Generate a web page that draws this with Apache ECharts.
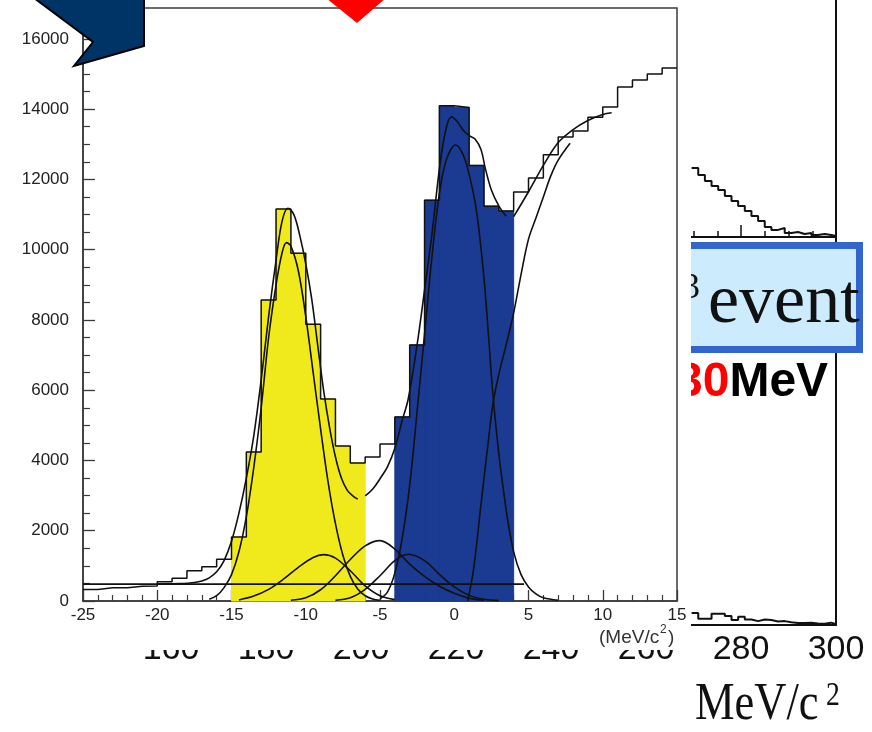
<!DOCTYPE html>
<html><head><meta charset="utf-8">
<script src="https://cdn.jsdelivr.net/npm/echarts/dist/echarts.min.js"></script>
<style>html,body{margin:0;padding:0;background:#fff}#c{width:872px;height:732px}</style>
</head><body><div id="c"></div>
<script>
// ---- main histogram (binding energy, MeV/c^2) ----
const binLeft = [-25,-24,-23,-22,-21,-20,-19,-18,-17,-16,-15,-14,-13,-12,-11,-10,-9,-8,-7,-6,-5,-4,-3,-2,-1,0,1,2,3,4,5,6,7,8,9,10,11,12,13,14];
const binRight = 15;
const binWidth = 1;
const counts = [330,380,380,420,430,550,650,860,975,1190,1820,4240,8570,11160,9900,7880,5750,4410,3930,4100,4470,5240,7290,11410,14100,14050,12400,11240,11100,11640,12040,12700,13210,13380,13770,14060,14630,14830,15000,15170];
const yellowRange = [-15, -6];
const blueRange = [-4, 4];

// fitted curves: [x, counts]
const fitTotalA = [[-20,485],[-19,490],[-18.5,495],[-18,505],[-17.5,525],[-17,570],[-16.5,660],[-16,830],[-15.5,1150],[-15,1700],[-14.5,2500],[-14,3500],[-13.5,4700],[-13,6300],[-12.5,8100],[-12,9700],[-11.6,10800],[-11.2,11180],[-10.8,11000],[-10.4,10400],[-10,9600],[-9.6,8600],[-9.2,7300],[-8.8,6000],[-8.4,4950],[-8,4100],[-7.6,3500],[-7.2,3150],[-6.8,2980],[-6.5,2900]];
const fitTotalB = [[-6,2990],[-5.5,3180],[-5,3480],[-4.5,3820],[-4,4350],[-3.5,5150],[-3.1,5750],[-2.5,7300],[-2,8850],[-1.5,10450],[-1,12300],[-0.6,13350],[-0.2,13780],[0.2,13650],[0.6,13400],[1,13250],[1.4,13150],[1.8,12850],[2.1,12300],[2.5,11700],[3,11250],[3.5,10950]];
const fitTotalC = [[4,10940],[5,11650],[6,12400],[7,13050],[8,13420],[9,13680],[10,13850],[10.6,13900]];
const thresholdComp = [[0.9,0],[1.3,900],[1.8,2750],[2.2,4200],[2.6,5600],[3,6450],[3.5,7300],[4,8200],[4.5,9300],[5,10300],[5.5,10900],[6,11500],[6.5,12100],[7,12550],[7.8,13030]];
const peakS = [[-16.5,50],[-16,150],[-15.5,380],[-15,750],[-14.5,1400],[-14,2400],[-13.5,3800],[-13,5500],[-12.5,7500],[-12,9000],[-11.6,9900],[-11.3,10200],[-11,10100],[-10.5,9400],[-10,8100],[-9.5,6500],[-9,4900],[-8.5,3400],[-8,2200],[-7.5,1300],[-7,700],[-6.5,340],[-6,150],[-5.5,60],[-5,20]];
const peak2 = [[-14.5,30],[-13.5,140],[-12.5,330],[-11.5,620],[-10.5,960],[-9.5,1240],[-8.8,1320],[-8,1220],[-7,860],[-6,430],[-5,150],[-4,40]];
const peak3 = [[-11,20],[-10,90],[-9,320],[-8,720],[-7,1180],[-6,1570],[-5,1720],[-4,1480],[-3,1050],[-2,700],[-1,420],[0,220],[1,80],[2,20]];
const peak4 = [[-8,20],[-7,90],[-6,330],[-5,720],[-4,1150],[-3.1,1330],[-2,1150],[-1,760],[0,400],[1,160],[2,50],[3,10]];
const peakP = [[-5,60],[-4.5,250],[-4,800],[-3.5,1800],[-3,3300],[-2.5,5400],[-2,7600],[-1.5,9800],[-1,11600],[-0.5,12600],[0.1,12980],[0.6,12700],[1,12150],[1.5,11100],[2,9200],[2.3,7600],[2.6,5900],[3,4200],[3.3,3200],[3.6,2300],[4,1400],[4.5,750],[5,400],[5.5,200],[6,90],[7,20]];
const background = [[-25,480],[4.7,480]];

const xTicksMain = {min: -25, max: 15, interval: 5};
const yTicksMain = {min: 0, max: 16880, interval: 2000};

// ---- partly hidden second chart on the right ----
const rightBinLeft = [269.6,271.0,272.4,273.8,275.2,276.6,278.0,279.4,280.8,282.2,283.6,285.0,286.4,287.8,289.2,290.6,292.0,293.4,294.8,296.2,297.6,299.0];
const rightBinRight = 300;
const upperCounts = [29.1,26.2,23.6,21.5,19.8,17.3,15.2,13.1,11.0,8.9,6.8,4.2,3.0,3.8,1.7,2.1,1.3,1.7,0.8,1.3,0.8,0.4];
const lowerCounts = [3.1,1.6,1.6,2.9,2.9,2.3,1.3,2.1,1.4,1.0,1.4,1.3,0.9,1.0,0.7,0.5,0.5,0.6,0.4,0.3,0.6,0.2];
const rightTicks = {min: 160, max: 300, interval: 20};

// ---- build ----
function stepData(lefts, vals, right) {
  const d = lefts.map((x, i) => [x, vals[i]]);
  d.push([right, vals[vals.length - 1]]);
  return d;
}
function binsIn(range) {
  return binLeft.map((x, i) => [x, counts[i]]).filter(p => p[0] >= range[0] && p[0] < range[1]);
}
function barItem(params, api) {
  const x0 = api.value(0), v = api.value(1);
  const p0 = api.coord([x0, v]);
  const p1 = api.coord([x0 + binWidth, 0]);
  const c = api.visual('color');
  return {type: 'rect', shape: {x: p0[0], y: p0[1], width: p1[0] - p0[0], height: p1[1] - p0[1]},
          style: {fill: c, stroke: c, lineWidth: 1}};
}
const axisCol = '#3a3a3a';
const curve = (data) => ({type: 'line', data, smooth: 0.35, symbol: 'none', xAxisIndex: 0, yAxisIndex: 0,
  lineStyle: {color: '#111', width: 1.6}, z: 10, silent: true});

const chart = echarts.init(document.getElementById('c'), null, {renderer: 'canvas'});
chart.setOption({
  animation: false,
  backgroundColor: '#fff',
  grid: [
    {left: 83, right: 195, top: 8, bottom: 131, show: true, borderColor: axisCol, borderWidth: 1.5, backgroundColor: 'transparent', z: 6, containLabel: false, outerBoundsMode: 'none'},
    {left: 171, right: 36, top: 0, bottom: 495, show: false, z: 1, containLabel: false, outerBoundsMode: 'none'},
    {left: 171, right: 36, top: 237, bottom: 107, show: false, z: 1, containLabel: false, outerBoundsMode: 'none'}
  ],
  xAxis: [
    {type: 'value', gridIndex: 0, min: xTicksMain.min, max: xTicksMain.max, interval: xTicksMain.interval, z: 7,
     axisLine: {show: true, onZero: false, lineStyle: {color: axisCol, width: 1.5}},
     axisTick: {show: true, inside: true, length: 11, lineStyle: {color: axisCol, width: 1.3}},
     minorTick: {show: true, splitNumber: 5, length: 6, lineStyle: {color: axisCol, width: 1.2}},
     axisLabel: {fontSize: 17, color: '#222', margin: 6, fontFamily: '"Liberation Sans", Arial, sans-serif'},
     splitLine: {show: false}, minorSplitLine: {show: false}},
    {type: 'value', gridIndex: 1, min: rightTicks.min, max: rightTicks.max, interval: rightTicks.interval, z: 1,
     axisLine: {show: true, onZero: false, lineStyle: {color: '#111', width: 2}},
     axisTick: {show: true, inside: true, length: 12, lineStyle: {color: '#111', width: 1.5}},
     minorTick: {show: true, splitNumber: 4, length: 6, lineStyle: {color: '#111', width: 1.5}},
     axisLabel: {show: false}, splitLine: {show: false}},
    {type: 'value', gridIndex: 2, min: rightTicks.min, max: rightTicks.max, interval: rightTicks.interval, z: 1,
     axisLine: {show: true, onZero: false, lineStyle: {color: '#111', width: 2}},
     axisTick: {show: false},
     axisLabel: {fontSize: 34, color: '#111', margin: 8, fontFamily: '"Liberation Sans", Arial, sans-serif'},
     splitLine: {show: false}}
  ],
  yAxis: [
    {type: 'value', gridIndex: 0, min: yTicksMain.min, max: yTicksMain.max, interval: yTicksMain.interval, z: 7,
     axisLine: {show: true, onZero: false, lineStyle: {color: axisCol, width: 1.5}},
     axisTick: {show: true, inside: true, length: 12, lineStyle: {color: axisCol, width: 1.3}},
     minorTick: {show: true, splitNumber: 4, length: 7, lineStyle: {color: axisCol, width: 1.2}},
     axisLabel: {fontSize: 17, color: '#222', margin: 14, fontFamily: '"Liberation Sans", Arial, sans-serif',
       formatter: v => (v % yTicksMain.interval === 0 ? String(v) : '')},
     splitLine: {show: false}, minorSplitLine: {show: false}},
    {type: 'value', gridIndex: 1, position: 'right', min: 0, max: 100, z: 1,
     axisLine: {show: true, onZero: false, lineStyle: {color: '#111', width: 2}}, axisTick: {show: false}, axisLabel: {show: false}, splitLine: {show: false}},
    {type: 'value', gridIndex: 2, position: 'right', min: 0, max: 100, z: 1,
     axisLine: {show: true, onZero: false, lineStyle: {color: '#111', width: 2}}, axisTick: {show: false}, axisLabel: {show: false}, splitLine: {show: false}}
  ],
  series: [
    {type: 'line', xAxisIndex: 1, yAxisIndex: 1, step: 'end', symbol: 'none', data: stepData(rightBinLeft, upperCounts, rightBinRight),
     lineStyle: {color: '#111', width: 2}, z: 1},
    {type: 'line', xAxisIndex: 2, yAxisIndex: 2, step: 'end', symbol: 'none', data: stepData(rightBinLeft, lowerCounts, rightBinRight),
     lineStyle: {color: '#111', width: 2}, z: 1},
    {type: 'custom', xAxisIndex: 0, yAxisIndex: 0, renderItem: barItem, data: binsIn(yellowRange), encode: {x: 0, y: 1},
     itemStyle: {color: '#F0EA1C'}, z: 8},
    {type: 'custom', xAxisIndex: 0, yAxisIndex: 0, renderItem: barItem, data: binsIn(blueRange), encode: {x: 0, y: 1},
     itemStyle: {color: '#1B3A92'}, z: 8},
    {type: 'line', xAxisIndex: 0, yAxisIndex: 0, step: 'end', symbol: 'none', data: stepData(binLeft, counts, binRight),
     lineStyle: {color: '#111', width: 1.5}, z: 9},
    curve(background), curve(fitTotalA), curve(fitTotalB), curve(fitTotalC), curve(thresholdComp),
    curve(peakS), curve(peak2), curve(peak3), curve(peak4), curve(peakP)
  ],
  graphic: {elements: [
    {type: 'rect', z: 2, shape: {x: 600, y: 245.5, width: 259.5, height: 104}, style: {fill: '#CCECFD', stroke: '#3366CC', lineWidth: 7}},
    {type: 'text', z: 3, x: 682, y: 289, style: {text: '3', font: '36px "Liberation Serif", serif', fill: '#111', verticalAlign: 'middle'}},
    {type: 'text', z: 3, x: 708, y: 304, style: {text: 'event', font: '70px "Liberation Serif", serif', fill: '#111', verticalAlign: 'middle'}},
    {type: 'text', z: 3, x: 676, y: 383, style: {text: '{r|30}{k|MeV}', verticalAlign: 'middle',
      rich: {r: {fill: '#FF0000', fontSize: 48, fontWeight: 'bold', fontFamily: '"Liberation Sans", Arial, sans-serif'},
             k: {fill: '#000', fontSize: 48, fontWeight: 'bold', fontFamily: '"Liberation Sans", Arial, sans-serif'}}}},
    {type: 'text', z: 3, x: 695, y: 705, scaleX: 0.84, style: {text: 'MeV/c', font: '53px "Liberation Serif", serif', fill: '#111', verticalAlign: 'middle'}},
    {type: 'text', z: 3, x: 826, y: 696, scaleX: 0.84, style: {text: '2', font: '33px "Liberation Serif", serif', fill: '#111', verticalAlign: 'middle'}},
    {type: 'rect', z: 5, shape: {x: 0, y: 0, width: 691, height: 650}, style: {fill: '#fff'}},
    {type: 'text', z: 7, x: 599, y: 638, style: {text: '(MeV/c', font: '19px "Liberation Sans", Arial, sans-serif', fill: '#333', verticalAlign: 'middle'}},
    {type: 'text', z: 7, x: 660, y: 630, style: {text: '2', font: '12px "Liberation Sans", Arial, sans-serif', fill: '#333', verticalAlign: 'middle'}},
    {type: 'text', z: 7, x: 668, y: 638, style: {text: ')', font: '19px "Liberation Sans", Arial, sans-serif', fill: '#333', verticalAlign: 'middle'}},
    {type: 'polygon', z: 20, shape: {points: [[30,-5],[93,42],[74,66],[144,46],[144,-5]]}, style: {fill: '#003366', stroke: '#000', lineWidth: 2}},
    {type: 'polygon', z: 20, shape: {points: [[326,-2],[357,23],[386,-2]]}, style: {fill: '#FF0000'}}
  ]}
});
</script></body></html>
